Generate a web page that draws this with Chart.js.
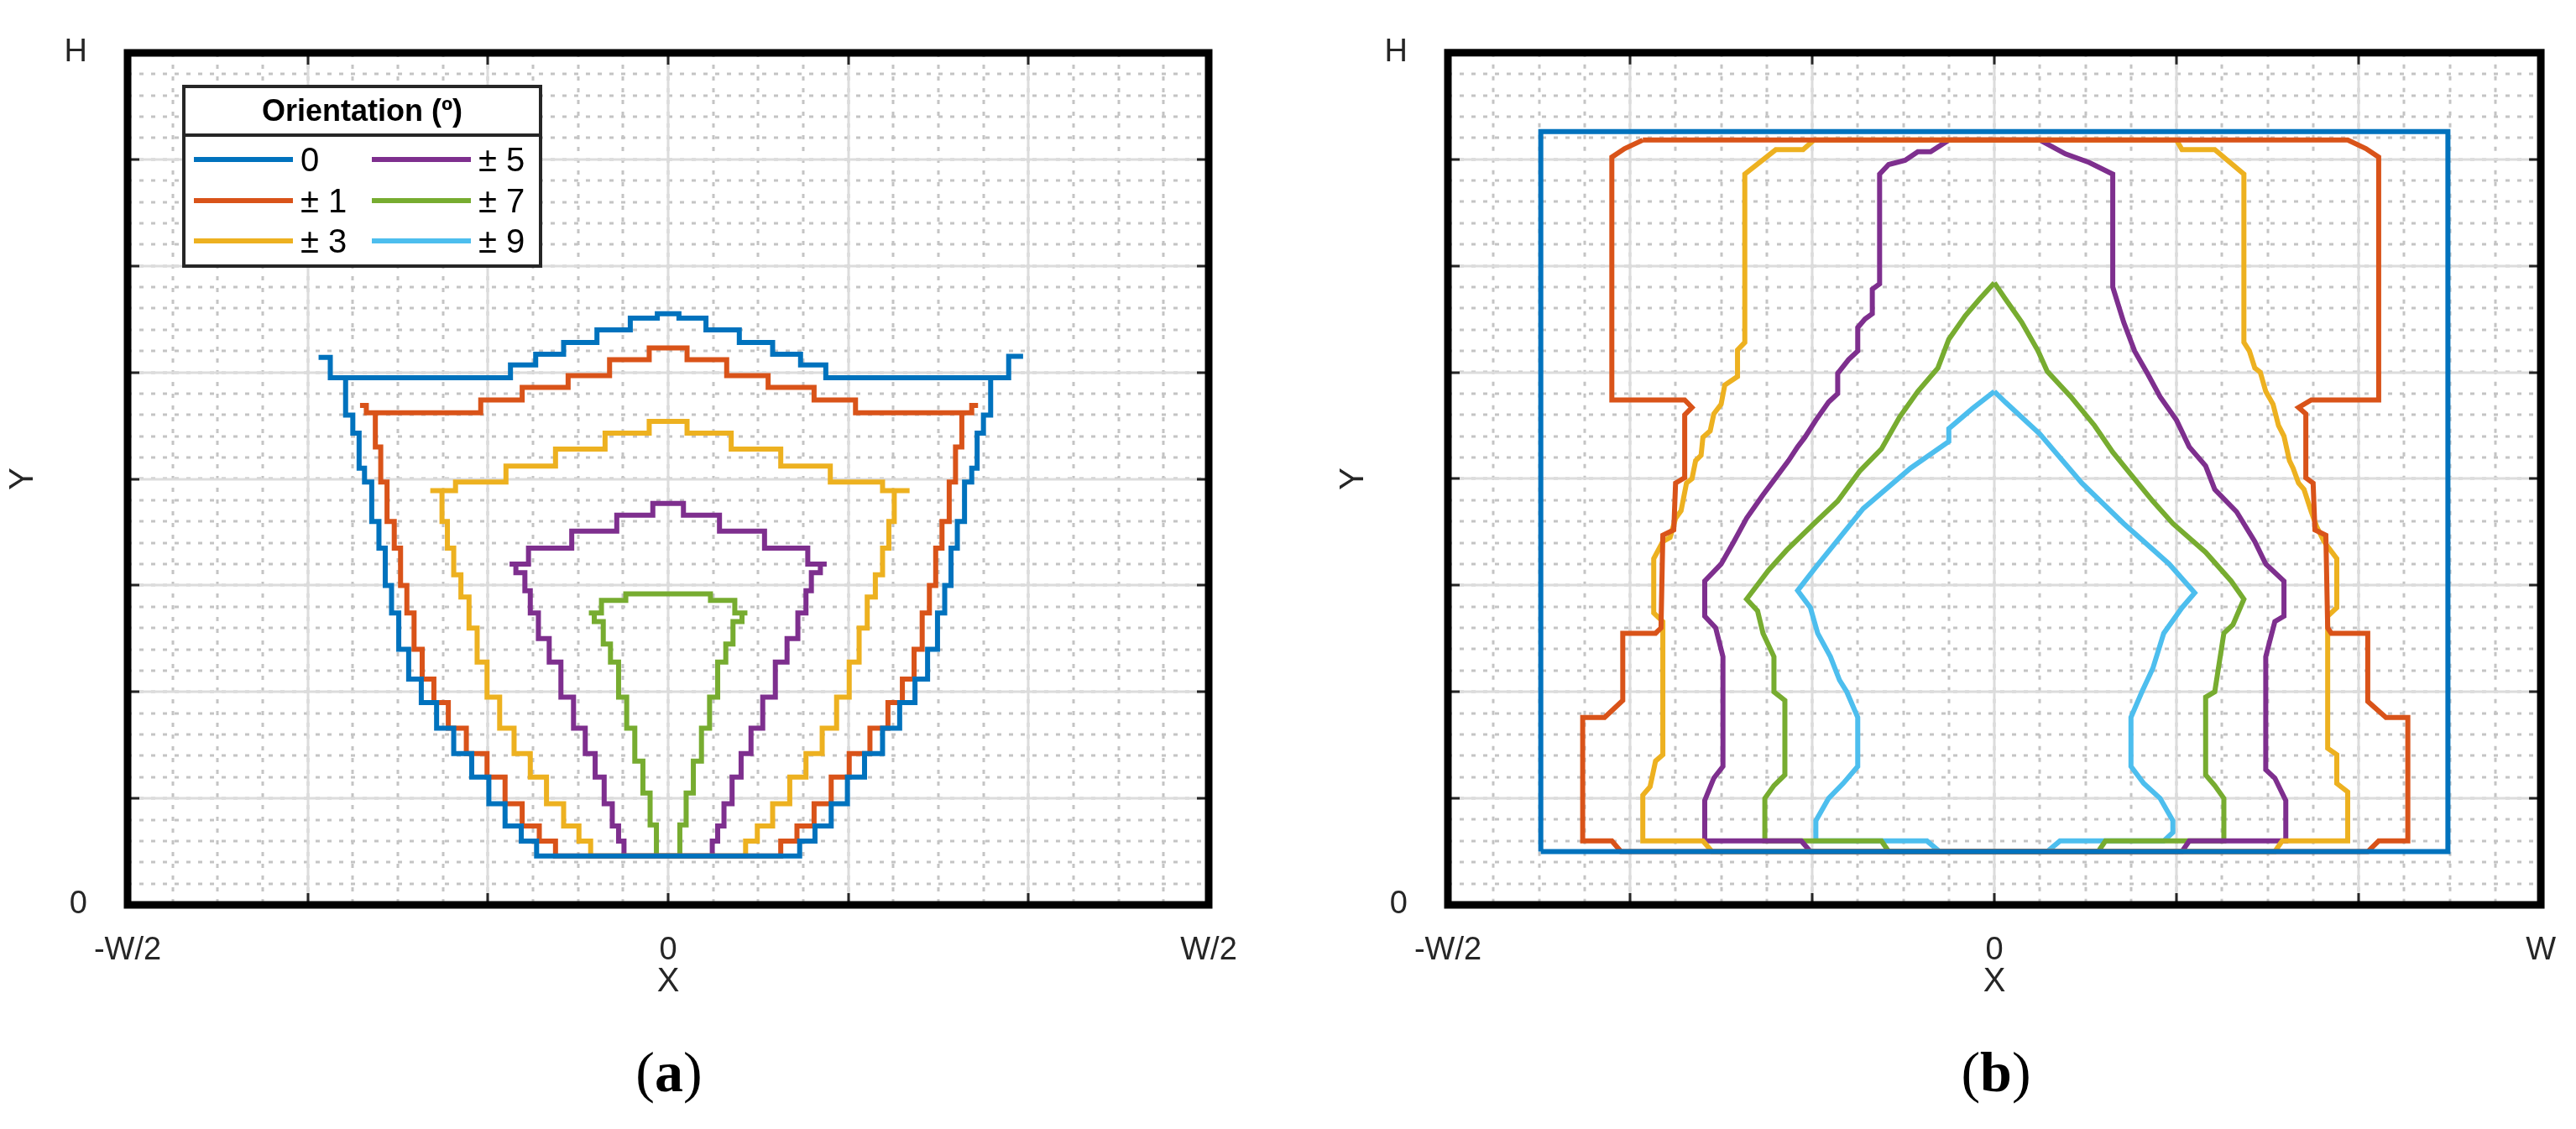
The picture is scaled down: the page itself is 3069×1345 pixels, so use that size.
<!DOCTYPE html>
<html>
<head>
<meta charset="utf-8">
<script src="https://cdn.jsdelivr.net/npm/chart.js@4"></script>
<style>
body { margin: 0; background: #fff; width: 3069px; height: 1345px; position: relative; overflow: hidden; }
canvas { position: absolute; top: 0; }
.cap { position: absolute; top: 1238px; font-family: "Liberation Serif", serif; font-size: 68px; transform: translateX(-50%); }
.cap b { font-weight: bold; }
</style>
</head>
<body>
<canvas id="grafA" width="1540" height="1345" style="left:0"></canvas>
<canvas id="grafB" width="1529" height="1345" style="left:1540px"></canvas>
<div class="cap" style="left:797px">(<b>a</b>)</div>
<div class="cap" style="left:2378px">(<b>b</b>)</div>
<script>
// cores das orientacoes
var cores = ['#0072BD', '#D95319', '#EDB120', '#7E2F8E', '#77AC30', '#4DBEEE'];
var legendaTitulo = 'Orientation (º)';
var legendaNomes = ['0', '± 1', '± 3', '± 5', '± 7', '± 9'];

var xTicksA = [-3, 0, 3];
var xLabelsA = ['-W/2', '0', 'W/2'];
var xTicksB = [-3, 0, 3];
var xLabelsB = ['-W/2', '0', 'W'];
var yTicks = [0, 8];
var yLabels = ['0', 'H'];

// painel (a)
var a0 = [[1.97,5.15],[1.81,4.95],[1.77,4.6],[1.73,4.43],[1.7,4.1],[1.67,3.97],[1.62,3.6],[1.59,3.35],[1.55,3.0],[1.52,2.74],[1.47,2.4],[1.41,2.12],[1.33,1.9],[1.24,1.66],[1.14,1.42],[1.04,1.2],[0.95,0.95],[0.86,0.74],[0.77,0.6],[0.69,0.46],
  [-0.69,0.46],[-0.77,0.6],[-0.86,0.74],[-0.95,0.95],[-1.04,1.2],[-1.14,1.42],[-1.24,1.66],[-1.33,1.9],[-1.41,2.12],[-1.47,2.4],[-1.52,2.74],[-1.55,3.0],[-1.59,3.35],[-1.62,3.6],[-1.67,3.97],[-1.7,4.1],[-1.73,4.43],[-1.77,4.6],[-1.81,4.95],[-1.94,5.14],[-1.81,4.95],
  [-0.95,4.95],[-0.8,5.07],[-0.67,5.17],[-0.49,5.28],[-0.30,5.40],[-0.12,5.51],[0,5.55],[0.12,5.51],[0.30,5.40],[0.49,5.28],[0.67,5.17],[0.8,5.07],[0.95,4.95],[1.81,4.95]];
var a1 = [[1.72,4.69],[1.65,4.62],[1.61,4.3],[1.58,3.97],[1.54,3.6],[1.50,3.35],[1.47,3.0],[1.43,2.74],[1.39,2.4],[1.34,2.12],[1.26,1.9],[1.18,1.66],[1.06,1.42],[0.95,1.2],[0.86,0.95],[0.76,0.74],[0.67,0.6],[0.58,0.46],
  [-0.58,0.46],[-0.67,0.6],[-0.76,0.74],[-0.86,0.95],[-0.95,1.2],[-1.06,1.42],[-1.18,1.66],[-1.26,1.9],[-1.34,2.12],[-1.39,2.4],[-1.43,2.74],[-1.47,3.0],[-1.50,3.35],[-1.54,3.6],[-1.58,3.97],[-1.61,4.3],[-1.64,4.62],[-1.71,4.69],[-1.64,4.62],
  [-1.13,4.62],[-0.95,4.74],[-0.67,4.86],[-0.44,4.97],[-0.21,5.12],[0,5.23],[0.21,5.12],[0.44,4.97],[0.67,4.86],[0.95,4.74],[1.13,4.62],[1.65,4.62]];
var a3 = [[1.34,3.89],[1.27,3.89],[1.24,3.6],[1.21,3.35],[1.17,3.1],[1.13,2.89],[1.08,2.6],[1.04,2.28],[0.97,1.95],[0.90,1.66],[0.81,1.42],[0.72,1.2],[0.63,0.95],[0.53,0.74],[0.46,0.6],[0.40,0.46],
  [-0.40,0.46],[-0.46,0.6],[-0.53,0.74],[-0.63,0.95],[-0.72,1.2],[-0.81,1.42],[-0.90,1.66],[-0.97,1.95],[-1.04,2.28],[-1.08,2.6],[-1.13,2.89],[-1.17,3.1],[-1.21,3.35],[-1.24,3.6],[-1.27,3.89],[-1.32,3.89],
  [-1.04,3.97],[-0.76,4.12],[-0.49,4.28],[-0.21,4.43],[0,4.54],[0.21,4.43],[0.49,4.28],[0.76,4.12],[1.04,3.97],[1.34,3.89]];
var a5 = [[0.88,3.2],[0.81,3.12],[0.78,2.95],[0.75,2.74],[0.69,2.5],[0.63,2.28],[0.56,1.95],[0.49,1.66],[0.43,1.42],[0.38,1.2],[0.33,0.95],[0.29,0.74],[0.26,0.6],[0.23,0.46],
  [-0.23,0.46],[-0.26,0.6],[-0.29,0.74],[-0.33,0.95],[-0.38,1.2],[-0.43,1.42],[-0.49,1.66],[-0.56,1.95],[-0.63,2.28],[-0.69,2.5],[-0.75,2.74],[-0.78,2.95],[-0.81,3.12],[-0.88,3.2],
  [-0.67,3.35],[-0.40,3.51],[-0.17,3.66],[0,3.77],[0.17,3.66],[0.40,3.51],[0.67,3.35],[0.88,3.2]];
var a7 = [[0.44,2.74],[0.38,2.66],[0.34,2.45],[0.30,2.28],[0.25,1.95],[0.21,1.66],[0.16,1.35],[0.12,1.05],[0.08,0.75],[0.05,0.46],
  [-0.05,0.46],[-0.08,0.75],[-0.12,1.05],[-0.16,1.35],[-0.21,1.66],[-0.25,1.95],[-0.30,2.28],[-0.34,2.45],[-0.38,2.66],[-0.44,2.74],
  [-0.30,2.86],[-0.17,2.92],[0.17,2.92],[0.30,2.86],[0.44,2.74]];

// painel (b)
var b0 = [[-2.49,0.50],[-2.49,7.26],[2.49,7.26],[2.49,0.50],[-2.49,0.50]];
var b1 = [[-1.93,7.18],[-2.03,7.1],[-2.10,7.02],[-2.10,4.74],[-1.70,4.74],[-1.66,4.67],[-1.70,4.6],[-1.70,4.01],[-1.75,3.96],[-1.76,3.52],[-1.82,3.47],[-1.83,2.6],[-1.86,2.55],[-2.04,2.55],[-2.04,1.92],[-2.14,1.76],[-2.26,1.76],[-2.26,0.60],[-2.10,0.60],[-2.05,0.50],
  [2.05,0.50],[2.11,0.60],[2.27,0.60],[2.27,1.76],[2.15,1.76],[2.05,1.91],[2.05,2.55],[1.85,2.55],[1.83,2.6],[1.82,3.47],[1.76,3.52],[1.75,3.96],[1.71,4.01],[1.71,4.61],[1.67,4.67],[1.74,4.74],[2.11,4.74],[2.11,7.02],[2.04,7.1],[1.94,7.18],[-1.93,7.18]];
var b3 = [[-0.99,7.18],[-1.05,7.09],[-1.20,7.09],[-1.37,6.86],[-1.37,5.28],[-1.41,5.21],[-1.41,4.96],[-1.48,4.88],[-1.50,4.7],[-1.54,4.61],[-1.56,4.45],[-1.60,4.39],[-1.61,4.22],[-1.64,4.17],[-1.66,4.0],[-1.69,3.96],[-1.72,3.7],[-1.75,3.63],[-1.78,3.45],[-1.82,3.41],[-1.87,3.25],[-1.87,2.74],[-1.82,2.66],[-1.82,1.41],[-1.86,1.35],[-1.89,1.11],[-1.93,1.03],[-1.93,0.60],[-1.60,0.60],[-1.55,0.50],
  [1.54,0.50],[1.58,0.60],[1.94,0.60],[1.94,1.06],[1.88,1.14],[1.88,1.41],[1.83,1.47],[1.83,2.71],[1.88,2.79],[1.88,3.25],[1.81,3.41],[1.77,3.55],[1.74,3.69],[1.70,3.9],[1.67,3.96],[1.64,4.1],[1.62,4.17],[1.59,4.4],[1.56,4.5],[1.53,4.7],[1.49,4.82],[1.46,5.0],[1.43,5.04],[1.40,5.2],[1.37,5.28],[1.37,6.86],[1.21,7.09],[1.03,7.09],[1.00,7.18],[-0.99,7.18]];
var b5 = [[-0.25,7.18],[-0.35,7.07],[-0.42,7.07],[-0.49,6.99],[-0.58,6.95],[-0.63,6.86],[-0.63,5.83],[-0.67,5.78],[-0.67,5.55],[-0.71,5.5],[-0.75,5.42],[-0.75,5.2],[-0.80,5.12],[-0.86,4.99],[-0.86,4.8],[-0.91,4.72],[-0.98,4.55],[-1.04,4.39],[-1.08,4.3],[-1.13,4.17],[-1.20,4.01],[-1.27,3.85],[-1.36,3.63],[-1.43,3.41],[-1.50,3.2],[-1.59,3.04],[-1.59,2.71],[-1.53,2.6],[-1.49,2.33],[-1.49,1.30],[-1.54,1.19],[-1.59,0.98],[-1.59,0.60],[-1.06,0.60],[-1.01,0.50],
  [1.03,0.50],[1.07,0.60],[1.60,0.60],[1.60,0.98],[1.54,1.19],[1.49,1.27],[1.49,2.33],[1.54,2.66],[1.59,2.71],[1.59,3.04],[1.49,3.2],[1.43,3.41],[1.33,3.69],[1.21,3.9],[1.16,4.12],[1.07,4.3],[1.0,4.55],[0.91,4.77],[0.84,4.99],[0.77,5.2],[0.71,5.47],[0.65,5.8],[0.65,6.86],[0.52,6.97],[0.39,7.05],[0.25,7.18],[-0.25,7.18]];
var b7 = [[0,5.84],[-0.08,5.69],[-0.16,5.53],[-0.25,5.31],[-0.31,5.04],[-0.42,4.82],[-0.52,4.58],[-0.62,4.28],[-0.74,4.07],[-0.86,3.79],[-0.99,3.58],[-1.14,3.33],[-1.24,3.14],[-1.36,2.87],[-1.30,2.76],[-1.27,2.55],[-1.21,2.33],[-1.21,2.0],[-1.15,1.92],[-1.15,1.22],[-1.21,1.12],[-1.26,1.0],[-1.26,0.60],[-0.62,0.60],[-0.58,0.50],
  [0.57,0.50],[0.61,0.60],[1.26,0.60],[1.26,1.0],[1.21,1.12],[1.16,1.22],[1.16,1.95],[1.21,2.0],[1.26,2.55],[1.31,2.63],[1.37,2.87],[1.30,3.04],[1.16,3.31],[0.98,3.58],[0.87,3.79],[0.75,4.04],[0.65,4.25],[0.55,4.5],[0.42,4.77],[0.29,5.01],[0.24,5.2],[0.15,5.47],[0.06,5.69],[0,5.84]];
var b9 = [[0,4.82],[-0.12,4.66],[-0.25,4.47],[-0.25,4.35],[-0.46,4.1],[-0.72,3.72],[-0.98,3.17],[-1.08,2.95],[-1.01,2.79],[-0.97,2.55],[-0.90,2.33],[-0.85,2.11],[-0.81,2.0],[-0.75,1.76],[-0.75,1.3],[-0.83,1.14],[-0.91,1.0],[-0.98,0.79],[-0.98,0.60],[-0.37,0.60],[-0.30,0.50],
  [0.29,0.50],[0.36,0.60],[0.93,0.60],[0.98,0.68],[0.98,0.79],[0.91,1.0],[0.82,1.14],[0.75,1.3],[0.75,1.76],[0.81,2.0],[0.87,2.22],[0.93,2.55],[1.03,2.79],[1.10,2.93],[0.96,3.2],[0.71,3.58],[0.48,3.96],[0.25,4.42],[0.06,4.72],[0,4.82]];

var seriesA = [a0, a1, a3, a5, a7];
var seriesB = [b0, b1, b3, b5, b7, b9];

function montaDatasets(lista, degrau) {
    return lista.map(function(pts, i) {
        return {
            label: legendaNomes[i],
            data: pts.map(function(p) { return { x: p[0], y: p[1] }; }),
            borderColor: cores[i],
            backgroundColor: cores[i],
            borderWidth: 6,
            pointRadius: 0,
            showLine: true,
            stepped: degrau,
            tension: 0
        };
    });
}

// grade maior/menor, moldura e tracos
var gradePlugin = {
    id: 'grade',
    beforeDatasetsDraw: function(chart) {
        var ctx = chart.ctx, a = chart.chartArea, sx = chart.scales.x, sy = chart.scales.y;
        ctx.save();
        ctx.lineWidth = 3;
        ctx.strokeStyle = '#c4c4c4';
        ctx.setLineDash([5, 9]);
        for (var v = sx.min; v <= sx.max + 1e-6; v += 0.25) {
            var px = Math.round(sx.getPixelForValue(v));
            ctx.beginPath(); ctx.moveTo(px, a.top); ctx.lineTo(px, a.bottom); ctx.stroke();
        }
        for (var w = sy.min; w <= sy.max + 1e-6; w += 0.2) {
            var py = Math.round(sy.getPixelForValue(w));
            ctx.beginPath(); ctx.moveTo(a.left, py); ctx.lineTo(a.right, py); ctx.stroke();
        }
        ctx.setLineDash([]);
        ctx.strokeStyle = '#dcdcdc';
        for (var i = Math.ceil(sx.min); i <= sx.max; i++) {
            var qx = Math.round(sx.getPixelForValue(i));
            ctx.beginPath(); ctx.moveTo(qx, a.top); ctx.lineTo(qx, a.bottom); ctx.stroke();
        }
        for (var j = Math.ceil(sy.min); j <= sy.max; j++) {
            var qy = Math.round(sy.getPixelForValue(j));
            ctx.beginPath(); ctx.moveTo(a.left, qy); ctx.lineTo(a.right, qy); ctx.stroke();
        }
        ctx.restore();
    },
    afterDraw: function(chart) {
        var ctx = chart.ctx, a = chart.chartArea, sx = chart.scales.x, sy = chart.scales.y;
        ctx.save();
        ctx.strokeStyle = '#262626';
        ctx.lineWidth = 3;
        for (var i = Math.ceil(sx.min); i <= sx.max; i++) {
            var qx = Math.round(sx.getPixelForValue(i));
            ctx.beginPath(); ctx.moveTo(qx, a.bottom); ctx.lineTo(qx, a.bottom - 14);
            ctx.moveTo(qx, a.top); ctx.lineTo(qx, a.top + 14); ctx.stroke();
        }
        for (var j = Math.ceil(sy.min); j <= sy.max; j++) {
            var qy = Math.round(sy.getPixelForValue(j));
            ctx.beginPath(); ctx.moveTo(a.left, qy); ctx.lineTo(a.left + 14, qy);
            ctx.moveTo(a.right, qy); ctx.lineTo(a.right - 14, qy); ctx.stroke();
        }
        ctx.strokeStyle = '#000';
        ctx.lineWidth = 9;
        ctx.strokeRect(a.left, a.top, a.right - a.left, a.bottom - a.top);
        ctx.restore();
    }
};

// legenda do painel (a)
var legendaPlugin = {
    id: 'legendaCaixa',
    afterDraw: function(chart) {
        var ctx = chart.ctx;
        var x0 = 219, y0 = 103, w = 425, h = 214;
        ctx.save();
        ctx.fillStyle = '#fff';
        ctx.fillRect(x0, y0, w, h);
        ctx.strokeStyle = '#262626';
        ctx.lineWidth = 4;
        ctx.strokeRect(x0, y0, w, h);
        ctx.beginPath(); ctx.moveTo(x0, 161); ctx.lineTo(x0 + w, 161); ctx.stroke();
        ctx.fillStyle = '#000';
        ctx.textAlign = 'center';
        ctx.textBaseline = 'middle';
        ctx.font = 'bold 36px "Liberation Sans", Arial, sans-serif';
        ctx.fillText(legendaTitulo, x0 + w / 2, 134);
        ctx.font = '40px "Liberation Sans", Arial, sans-serif';
        ctx.textAlign = 'left';
        var linhas = [190, 239, 287];
        legendaNomes.forEach(function(nome, i) {
            var col = i < 3 ? 0 : 1, lin = i % 3;
            var lx = col ? 443 : 231;
            ctx.strokeStyle = cores[i];
            ctx.lineWidth = 6;
            ctx.beginPath(); ctx.moveTo(lx, linhas[lin]); ctx.lineTo(lx + 118, linhas[lin]); ctx.stroke();
            ctx.fillText(nome, lx + 127, linhas[lin] + 3);
        });
        ctx.restore();
    }
};

function opcoes(xTicks, xLabels, yWidth, padding) {
    var fonte = { family: '"Liberation Sans", Arial, sans-serif', size: 38 };
    return {
        responsive: false,
        devicePixelRatio: 1,
        animation: false,
        layout: { padding: padding },
        plugins: { legend: { display: false }, tooltip: { enabled: false } },
        scales: {
            x: {
                type: 'linear', min: -3, max: 3,
                grid: { display: false }, border: { display: false },
                afterBuildTicks: function(s) { s.ticks = xTicks.map(function(v) { return { value: v }; }); },
                afterFit: function(s) { s.height = 120; },
                ticks: { color: '#262626', font: fonte, padding: 24, maxRotation: 0,
                    callback: function(v) { return xLabels[xTicks.indexOf(v)]; } },
                title: { display: true, text: 'X', color: '#262626', font: { family: fonte.family, size: 40 } }
            },
            y: {
                type: 'linear', min: 0, max: 8,
                grid: { display: false }, border: { display: false },
                afterBuildTicks: function(s) { s.ticks = yTicks.map(function(v) { return { value: v }; }); },
                afterFit: function(s) { s.width = yWidth; },
                ticks: { color: '#262626', font: fonte, padding: 40,
                    callback: function(v) { return yLabels[yTicks.indexOf(v)]; } },
                title: { display: true, text: 'Y', color: '#262626', font: { family: fonte.family, size: 40 } }
            }
        }
    };
}

var graficoA = new Chart(document.getElementById('grafA').getContext('2d'), {
    type: 'scatter',
    data: { datasets: montaDatasets(seriesA, 'middle') },
    options: opcoes(xTicksA, xLabelsA, 152, { left: 0, right: 100, top: 63, bottom: 147 }),
    plugins: [gradePlugin, legendaPlugin]
});

var graficoB = new Chart(document.getElementById('grafB').getContext('2d'), {
    type: 'scatter',
    data: { datasets: montaDatasets(seriesB, false) },
    options: opcoes(xTicksB, xLabelsB, 140, { left: 45, right: 29, top: 35, bottom: 147 }),
    plugins: [gradePlugin]
});
</script>
</body>
</html>
